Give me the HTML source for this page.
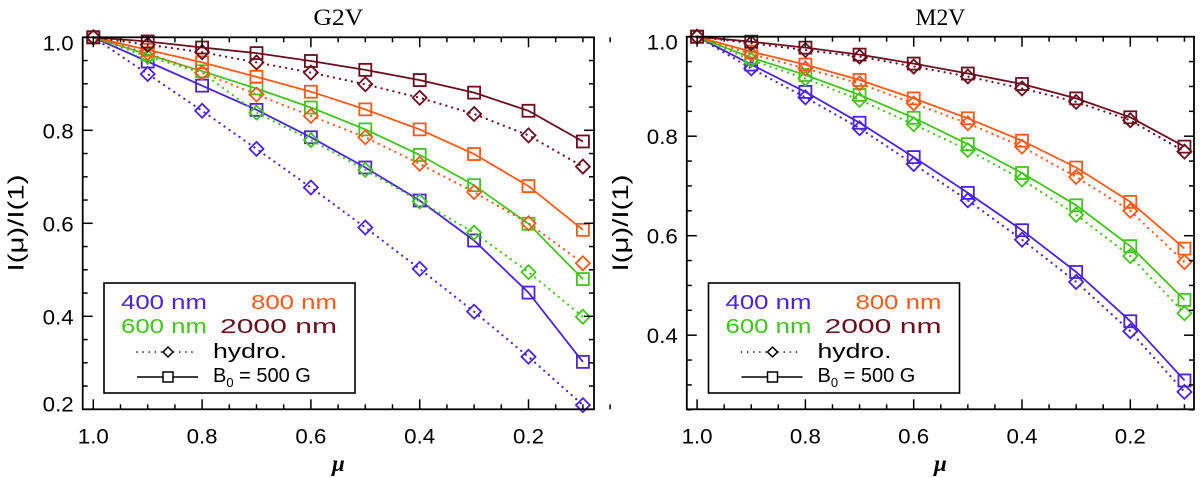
<!DOCTYPE html>
<html><head><meta charset="utf-8"><title>Limb darkening G2V / M2V</title>
<style>html,body{margin:0;padding:0;background:#fff}svg{display:block}text{font-family:"Liberation Sans","DejaVu Sans",sans-serif;fill:#000}</style>
</head><body>
<svg id="fig" width="1200" height="478" viewBox="0 0 1200 478" xmlns="http://www.w3.org/2000/svg"></svg>
<script>
const mu = [1.0,0.9,0.8,0.7,0.6,0.5,0.4,0.3,0.2,0.1];
const waveLabels = ["400 nm","600 nm","800 nm","2000 nm"];
const colors = ["#4a22e8","#44c41c","#ff5a1a","#6a0f1e"];
// G2V
const g2vHydro400 = [1.0,0.921,0.842,0.760,0.677,0.591,0.502,0.410,0.313,0.209];
const g2vB400     = [1.0,0.948,0.896,0.844,0.785,0.720,0.649,0.563,0.451,0.302];
const g2vHydro600 = [1.0,0.958,0.924,0.838,0.779,0.715,0.647,0.580,0.495,0.399];
const g2vB600     = [1.0,0.963,0.927,0.890,0.849,0.802,0.747,0.682,0.599,0.480];
const g2vHydro800 = [1.0,0.966,0.924,0.877,0.831,0.785,0.728,0.667,0.600,0.514];
const g2vB800     = [1.0,0.973,0.946,0.915,0.883,0.845,0.802,0.749,0.680,0.586];
const g2vHydro2000= [1.0,0.984,0.968,0.946,0.924,0.899,0.870,0.835,0.789,0.722];
const g2vB2000    = [1.0,0.991,0.978,0.966,0.949,0.930,0.908,0.881,0.842,0.776];
// M2V
const m2vHydro400 = [1.0,0.936,0.878,0.816,0.744,0.671,0.592,0.507,0.408,0.286];
const m2vB400     = [1.0,0.944,0.889,0.827,0.758,0.686,0.611,0.527,0.428,0.309];
const m2vHydro600 = [1.0,0.953,0.916,0.873,0.824,0.772,0.713,0.642,0.559,0.444];
const m2vB600     = [1.0,0.958,0.923,0.883,0.837,0.784,0.726,0.661,0.579,0.471];
const m2vHydro800 = [1.0,0.965,0.936,0.906,0.866,0.826,0.779,0.718,0.650,0.547];
const m2vB800     = [1.0,0.970,0.944,0.913,0.876,0.836,0.791,0.737,0.668,0.574];
const m2vHydro2000= [1.0,0.987,0.973,0.960,0.940,0.920,0.896,0.869,0.832,0.769];
const m2vB2000    = [1.0,0.990,0.978,0.964,0.946,0.926,0.905,0.876,0.838,0.779];
const xTickLabels = ["1.0","0.8","0.6","0.4","0.2"];
const g2vYTicks = ["0.2","0.4","0.6","0.8","1.0"];
const m2vYTicks = ["0.4","0.6","0.8","1.0"];

const NS="http://www.w3.org/2000/svg";
const svg=document.getElementById('fig');
function mk(tag,attrs,parent){const e=document.createElementNS(NS,tag);for(const k in attrs)e.setAttribute(k,attrs[k]);(parent||svg).appendChild(e);return e;}

function panel(cfg){
  const g=mk('g',{});
  
  
  const {L,R,T,B,y0,y1}=cfg;
  const X=v=>cfg.xa+(1.0-v)/0.1*cfg.xs;
  const Y=v=>B-(v-y0)/(y1-y0)*(B-T);
  cfg.series.forEach((s,i)=>{
    const col=colors[i];
    const hp=s.h.map((v,j)=>X(mu[j]).toFixed(1)+','+Y(v).toFixed(1)).join(' ');
    const hl=mk('polyline',{points:hp,fill:'none',stroke:col,'stroke-width':2.2,'stroke-dasharray':'0.1 6','stroke-linecap':'round'},g);
    
    
    const bp=s.b.map((v,j)=>X(mu[j]).toFixed(1)+','+Y(v).toFixed(1)).join(' ');
    const bl=mk('polyline',{points:bp,fill:'none',stroke:col,'stroke-width':1.8},g);
    
    
    s.h.forEach((v,j)=>{
      const cx=X(mu[j]),cy=Y(v),r=7;
      const d=mk('polygon',{points:`${cx},${cy-r} ${cx+r},${cy} ${cx},${cy+r} ${cx-r},${cy}`,fill:'none',stroke:col,'stroke-width':1.8},g);
      
      
    });
    s.b.forEach((v,j)=>{
      const cx=X(mu[j]),cy=Y(v);
      const q=mk('rect',{x:cx-6,y:cy-6,width:12,height:12,fill:'none',stroke:col,'stroke-width':1.8},g);
      
      
    });
  });
  const fr=mk('rect',{x:L,y:T,width:R-L,height:B-T,fill:'none',stroke:'#000','stroke-width':1.8},g);
  
  
  for(let k=0;k<=19;k++){
    const v=1.0-k*0.05; if(v<0.04)break;
    const x=X(v); const major=(k%4===0); const len=major?10:5;
    mk('line',{x1:x,y1:B,x2:x,y2:B-len,stroke:'#000','stroke-width':1.5},g);
    mk('line',{x1:x,y1:T,x2:x,y2:T+len,stroke:'#000','stroke-width':1.5},g);
  }
  xTickLabels.forEach(t=>{
    const v=parseFloat(t);
    const tx=mk('text',{x:X(v),y:B+34,'text-anchor':'middle','font-size':21,textLength:31,lengthAdjust:'spacingAndGlyphs'},g);tx.textContent=t;
    
    
  });
  for(let v=y0;v<=y1+1e-6;v+=0.05){
    const vv=Math.round(v*100)/100; const y=Y(vv);
    const major=Math.abs(Math.round(vv*10)-vv*10)<1e-6 && Math.round(vv*10)%2===0;
    const len=major?10:5;
    mk('line',{x1:L,y1:y,x2:L+len,y2:y,stroke:'#000','stroke-width':1.5},g);
    mk('line',{x1:R,y1:y,x2:R-len,y2:y,stroke:'#000','stroke-width':1.5},g);
  }
  cfg.yTicks.forEach(t=>{
    const v=parseFloat(t);let y=Y(v)+8;
    if(v===1.0)y=Y(v)+13; if(v===y0)y=Y(v)+2;
    const ty=mk('text',{x:L-9,y:y,'text-anchor':'end','font-size':21,textLength:31,lengthAdjust:'spacingAndGlyphs'},g);ty.textContent=t;
    
    
  });
  const ti=mk('text',{x:(L+R)/2,y:25,'text-anchor':'middle',style:'font-family:"Liberation Serif",serif;font-size:23px',textLength:50,lengthAdjust:'spacingAndGlyphs'},g);ti.textContent=cfg.title;
  
  
  const xl=mk('text',{x:(L+R)/2,y:471,'text-anchor':'middle',style:'font-family:"Liberation Serif",serif;font-size:23px;font-style:italic;font-weight:bold'},g);xl.textContent='μ';
  
  
  const yl=mk('text',{x:0,y:0,'text-anchor':'middle','font-size':22,textLength:97,lengthAdjust:'spacingAndGlyphs',transform:`translate(${L-59},223) rotate(-90)`},g);yl.textContent='I(μ)/I(1)';
  
  
  const lg=mk('g',{transform:`translate(${cfg.legX},${cfg.legY})`},g);
  
  
  mk('rect',{x:0,y:0,width:251,height:110,fill:'#fff',stroke:'#000','stroke-width':1.6},lg);
  const pos=[[17,26,'start',86],[17,50,'start',86],[233,26,'end',86],[233,50,'end',117]];
  waveLabels.forEach((w,i)=>{
    const t=mk('text',{x:pos[i][0],y:pos[i][1],'text-anchor':pos[i][2],'font-size':20,textLength:pos[i][3],lengthAdjust:'spacingAndGlyphs'},lg);
    t.setAttribute('style','fill:'+colors[i]);t.textContent=w;
    
    
  });
  mk('line',{x1:33,y1:69,x2:94,y2:69,stroke:'#000','stroke-width':1.6,'stroke-dasharray':'0.1 6','stroke-linecap':'round'},lg);
  mk('polygon',{points:'64,64 69,69 64,74 59,69',fill:'#fff',stroke:'#000','stroke-width':1.5},lg);
  const h=mk('text',{x:109,y:75,'font-size':20,textLength:74,lengthAdjust:'spacingAndGlyphs'},lg);h.textContent='hydro.';
  
  
  mk('line',{x1:33,y1:94,x2:94,y2:94,stroke:'#000','stroke-width':1.6},lg);
  mk('rect',{x:59,y:89,width:10,height:10,fill:'#fff',stroke:'#000','stroke-width':1.5},lg);
  const b=mk('text',{x:109,y:99,'font-size':20},lg);
  b.innerHTML='B<tspan font-size="13" dy="5">0</tspan><tspan dy="-5"> = 500 G</tspan>';
  
  
}
panel({name:'g2v-panel',title:'G2V',L:82.7,R:594,T:37.3,B:409.3,xa:93.3,xs:54.4,y0:0.2,y1:1.0,yTicks:g2vYTicks,legX:104,legY:283,
  series:[{h:g2vHydro400,b:g2vB400},{h:g2vHydro600,b:g2vB600},{h:g2vHydro800,b:g2vB800},{h:g2vHydro2000,b:g2vB2000}]});
panel({name:'m2v-panel',title:'M2V',L:686.8,R:1194,T:36.7,B:409.3,xa:697.1,xs:54.15,y0:0.251,y1:1.0,yTicks:m2vYTicks,legX:708.5,legY:283,
  series:[{h:m2vHydro400,b:m2vB400},{h:m2vHydro600,b:m2vB600},{h:m2vHydro800,b:m2vB800},{h:m2vHydro2000,b:m2vB2000}]});
</script>
</body></html>
